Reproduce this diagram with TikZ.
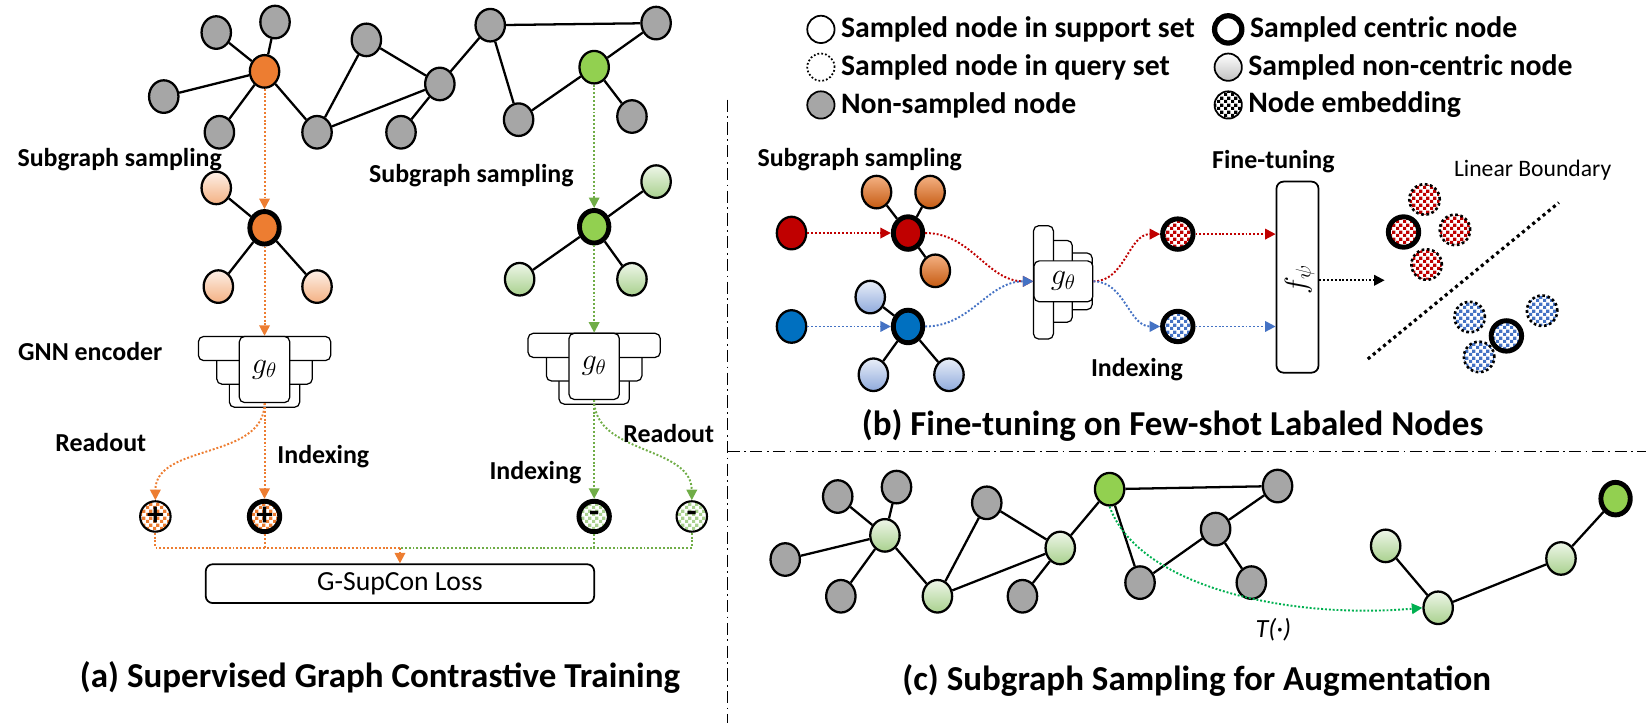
\documentclass[tikz,border=0pt]{standalone}
\usepackage{fontspec}
\setmainfont{Carlito}
\usetikzlibrary{positioning,arrows.meta,shapes.geometric,patterns}
\definecolor{gris}{RGB}{166,166,166}
\definecolor{naranja}{RGB}{237,125,49}
\definecolor{naranjaclaro}{RGB}{244,177,131}
\definecolor{naranjaosc}{RGB}{197,90,17}
\definecolor{verde}{RGB}{146,208,80}
\definecolor{verdeclaro}{RGB}{169,209,142}
\definecolor{verdeflecha}{RGB}{112,173,71}
\definecolor{verdet}{RGB}{0,176,80}
\definecolor{rojo}{RGB}{192,0,0}
\definecolor{azul}{RGB}{0,112,192}
\definecolor{azulclaro}{RGB}{143,170,220}
\definecolor{azulflecha}{RGB}{68,114,196}
\pgfdeclarepatternformonly{cuadros}{\pgfpointorigin}{\pgfqpoint{3.8pt}{3.8pt}}%
  {\pgfqpoint{3.8pt}{3.8pt}}{%
  \pgfpathrectangle{\pgfpointorigin}{\pgfqpoint{1.9pt}{1.9pt}}%
  \pgfpathrectangle{\pgfqpoint{1.9pt}{1.9pt}}{\pgfqpoint{1.9pt}{1.9pt}}%
  \pgfusepath{fill}}

\begin{document}
\begin{tikzpicture}[x=0.6pt, y=-0.6pt,
  nodo/.style={ellipse, draw, line width=1.3pt, fill=gris,
    minimum width=16.8pt, minimum height=18.6pt, inner sep=0pt},
  centrico/.style={line width=2.8pt},
  naranjam/.style={nodo, top color=naranjaclaro!20!white, bottom color=naranjaclaro},
  verdem/.style={nodo, top color=verdeclaro!20!white, bottom color=verdeclaro},
  naranjab/.style={nodo, top color=naranjaclaro, bottom color=naranjaosc},
  azulm/.style={nodo, top color=azulclaro!20!white, bottom color=azulclaro},
  arista/.style={line width=1.3pt},
  emb/.style={circle, draw, line width=1.2pt, minimum size=17.4pt, inner sep=0pt,
    preaction={fill=white}, pattern=cuadros,
    font=\fontsize{19}{19}\selectfont\bfseries},
  consulta/.style={line width=1.5pt, dash pattern=on 1.5pt off 1.5pt},
  ley/.style={circle, draw, line width=1pt, fill=white, minimum size=15.6pt, inner sep=0pt},
  punteo/.style={line width=1.1pt, dash pattern=on 1.1pt off 1.1pt},
  flecha/.style={punteo, -{Triangle[length=6pt,width=6pt]}},
  caja/.style={draw, rounded corners=3pt, fill=white, line width=0.7pt, inner sep=0pt,
    font=\fontsize{17}{17}\selectfont},
  etiq/.style={font=\fontsize{14.8}{17}\selectfont\bfseries},
  titulo/.style={font=\fontsize{20}{24}\selectfont\bfseries},
  leyenda/.style={font=\fontsize{17}{20}\selectfont\bfseries, inner sep=0pt},
  divisor/.style={line width=0.9pt, dash pattern=on 7pt off 2.5pt on 1pt off 2.5pt}
]
\useasboundingbox (0,0) rectangle (1568,688);
% Grafo original (a)
\node[nodo] (ga) at (206,31) {};
\node[nodo] (gb) at (262,21) {};
\node[nodo, fill=naranja] (na) at (252,68) {};
\node[nodo] (gc) at (156,92) {};
\node[nodo] (gd) at (209,126) {};
\node[nodo] (ge) at (302,126) {};
\node[nodo] (gf) at (349,38) {};
\node[nodo] (gg) at (419,80) {};
\node[nodo] (gh) at (382,126) {};
\node[nodo] (gi) at (467,24) {};
\node[nodo] (gj) at (625,22) {};
\node[nodo, fill=verde] (nv) at (566,64) {};
\node[nodo] (gk) at (494,114) {};
\node[nodo] (gl) at (602,111) {};
\draw[arista] (na) -- (ga) (na) -- (gb) (na) -- (gc) (na) -- (gd) (na) -- (ge)
  (ge) -- (gf) (ge) -- (gg) (gf) -- (gg) (gg) -- (gh) (gg) -- (gi)
  (gi) -- (gj) (gi) -- (gk) (gk) -- (nv) (nv) -- (gj) (nv) -- (gl);
% Subgrafos muestreados
\node[naranjam] (sa1) at (206,179) {};
\node[nodo, centrico, fill=naranja] (sca) at (252,217) {};
\node[naranjam] (sa2) at (208,273) {};
\node[naranjam] (sa3) at (302,273) {};
\draw[arista] (sca) -- (sa1) (sca) -- (sa2) (sca) -- (sa3);
\node[verdem] (sb1) at (625,173) {};
\node[nodo, centrico, fill=verde] (scb) at (566,216) {};
\node[verdem] (sb2) at (495,266) {};
\node[verdem] (sb3) at (602,266) {};
\draw[arista] (scb) -- (sb1) (scb) -- (sb2) (scb) -- (sb3);
\node[etiq] (lsa) at (114,152) {Subgraph sampling};
\node[etiq] (lsb) at (449,167) {Subgraph sampling};
% Codificadores
\node[caja, minimum width=40.2pt, minimum height=22.8pt] (ca3) at (252,369) {};
\node[caja, minimum width=54.6pt, minimum height=21.6pt] (ca2) at (252,348) {};
\node[caja, minimum width=75.6pt, minimum height=13.8pt] (ca1) at (252,332) {};
\node[caja, minimum width=28.8pt, minimum height=37.8pt] (ca) at (252,352) {$g_\theta$};
\node[caja, minimum width=40.2pt, minimum height=22.8pt] (cb3) at (566,366) {};
\node[caja, minimum width=54.6pt, minimum height=21.6pt] (cb2) at (566,345) {};
\node[caja, minimum width=75.6pt, minimum height=13.8pt] (cb1) at (566,329) {};
\node[caja, minimum width=28.8pt, minimum height=37.8pt] (cb) at (566,349) {$g_\theta$};
\node[etiq] (lgnn) at (86,335) {GNN encoder};
\draw[flecha, naranja] (na) -- (sca);
\draw[flecha, naranja] (sca) -- (ca);
\draw[flecha, verdeflecha] (nv) -- (scb);
\draw[flecha, verdeflecha] (scb) -- (cb);
% Embeddings y perdida
\node[emb, pattern color=naranja] (p1) at (148,492) {+};
\node[emb, centrico, pattern color=naranja] (p2) at (252,492) {+};
\node[emb, centrico, pattern color=verdeclaro] (m1) at (566,492) {-};
\node[emb, pattern color=verdeclaro] (m2) at (659,492) {-};
\draw[flecha, naranja] (ca.south) to[out=-90,in=90] (p1.north);
\draw[flecha, naranja] (ca) -- (p2);
\draw[flecha, verdeflecha] (cb) -- (m1);
\draw[flecha, verdeflecha] (cb.south) to[out=-90,in=90] (m2.north);
\node[etiq] (lra) at (96,422) {Readout};
\node[etiq] (lia) at (308,435) {Indexing};
\node[etiq] (lib) at (510,450) {Indexing};
\node[etiq] (lrb) at (637,413) {Readout};
\node[caja, rounded corners=4pt, line width=1pt, minimum width=222pt, minimum height=22.2pt,
  font=\fontsize{15.8}{18}\selectfont] (loss) at (381,556) {G-SupCon Loss};
\coordinate (junta) at (381,522);
\draw[punteo, naranja] (p1.south) |- (junta);
\draw[punteo, naranja] (p2.south) -- (p2.south |- junta);
\draw[punteo, verdeflecha] (m2.south) |- (junta);
\draw[punteo, verdeflecha] (m1.south) -- (m1.south |- junta);
\draw[flecha, naranja] (junta) -- (loss.north);
\node[titulo] (tita) at (362,645) {(a) Supervised Graph Contrastive Training};
% Divisores
\coordinate (d1) at (693,95);
\coordinate (d2) at (693,708);
\coordinate (d3) at (1568,430);
\draw[divisor] (d1) -- (d2);
\draw[divisor] (d1 |- d3) -- (d3);
% Leyenda
\node[ley] (l1) at (782,28) {};
\node[leyenda, right=3pt of l1] (t1) {Sampled node in support set};
\node[ley, dash pattern=on 1pt off 1.2pt] (l2) at (782,64) {};
\node[leyenda, right=3pt of l2] (t2) {Sampled node in query set};
\node[ley, fill=gris] (l3) at (782,100) {};
\node[leyenda, right=3pt of l3] (t3) {Non-sampled node};
\node[ley, line width=3pt] (l4) at (1170,28) {};
\node[leyenda, right=3pt of l4] (t4) {Sampled centric node};
\node[ley, top color=white, bottom color=gris!70] (l5) at (1170,64) {};
\node[leyenda, right=3pt of l5] (t5) {Sampled non-centric node};
\node[emb, minimum size=15.6pt, line width=1pt, pattern color=black] (l6) at (1170,100) {};
\node[leyenda, right=3pt of l6] (t6) {Node embedding};
% Ajuste fino (b)
\node[etiq] (lsc) at (819,152) {Subgraph sampling};
\node[nodo, fill=rojo] (rl) at (754,222) {};
\node[nodo, centrico, fill=rojo] (rc) at (865,222) {};
\node[naranjab] (ob1) at (835,183) {};
\node[naranjab] (ob2) at (886,183) {};
\node[naranjab] (ob3) at (891,258) {};
\draw[arista] (rc) -- (ob1) (rc) -- (ob2) (rc) -- (ob3);
\node[nodo, fill=azul] (bl) at (754,311) {};
\node[nodo, centrico, fill=azul] (bc) at (865,311) {};
\node[azulm] (lb1) at (829,283) {};
\node[azulm] (lb2) at (832,357) {};
\node[azulm] (lb3) at (904,357) {};
\draw[arista] (bc) -- (lb1) (bc) -- (lb2) (bc) -- (lb3);
\node[caja, minimum width=18.6pt, minimum height=32.4pt] (cc3) at (1025,268) {};
\node[caja, minimum width=16.2pt, minimum height=46.8pt] (cc2) at (1008,268) {};
\node[caja, minimum width=11.4pt, minimum height=64.8pt] (cc1) at (994,269) {};
\node[caja, minimum width=33.6pt, minimum height=23.4pt] (cc) at (1013,268) {$g_\theta$};
\draw[flecha, rojo] (rl) -- (rc);
\draw[flecha, azulflecha] (bl) -- (bc);
\draw[flecha, rojo] (rc.east) to[out=0,in=180] (cc.west);
\draw[flecha, azulflecha] (bc.east) to[out=0,in=180] (cc.west);
\node[emb, centrico, pattern color=rojo] (er) at (1122,223) {};
\node[emb, centrico, pattern color=azulflecha] (eb) at (1122,311) {};
\draw[flecha, rojo] (cc.east) to[out=0,in=180] (er.west);
\draw[flecha, azulflecha] (cc.east) to[out=0,in=180] (eb.west);
\node[etiq] (lic) at (1083,352) {Indexing};
\node[etiq] (lft) at (1213,154) {Fine-tuning};
\node[caja, rounded corners=4pt, line width=1pt, minimum width=24pt,
  minimum height=109.2pt] (fpsi) at (1236,264) {};
\node[rotate=90, font=\fontsize{17}{17}\selectfont] (tpsi) at (1238,266) {$f_\psi$};
\draw[flecha, rojo] (er.east) -- (er.east -| fpsi.west);
\draw[flecha, azulflecha] (eb.east) -- (eb.east -| fpsi.west);
\coordinate (dest) at (1319,267);
\draw[flecha] (fpsi.east |- dest) -- (dest);
\node[font=\fontsize{13.5}{16}\selectfont] (llb) at (1460,162) {Linear Boundary};
\node[emb, centrico, pattern color=rojo] (cr0) at (1337,221) {};
\node[emb, consulta, pattern color=rojo] (cr1) at (1357,190) {};
\node[emb, consulta, pattern color=rojo] (cr2) at (1386,219) {};
\node[emb, consulta, pattern color=rojo] (cr3) at (1359,252) {};
\node[emb, consulta, pattern color=azulflecha] (cb4) at (1400,302) {};
\node[emb, consulta, pattern color=azulflecha] (cb5) at (1469,296) {};
\node[emb, consulta, pattern color=azulflecha] (cb6) at (1409,340) {};
\node[emb, centrico, pattern color=azulflecha] (cb0) at (1435,320) {};
\coordinate (lim1) at (1303,342);
\coordinate (lim2) at (1485,193);
\draw[line width=1.8pt, dash pattern=on 1.8pt off 2pt] (lim1) -- (lim2);
\node[titulo] (titb) at (1117,405) {(b) Fine-tuning on Few-shot Labaled Nodes};
% Muestreo para aumento (c)
\node[verdem] (cna) at (843,510) {};
\node[nodo] (cga) at (798,473) {};
\node[nodo] (cgb) at (854,464) {};
\node[nodo] (cgc) at (748,533) {};
\node[nodo] (cgd) at (801,568) {};
\node[verdem] (cge) at (893,568) {};
\node[nodo] (cgf) at (940,479) {};
\node[verdem] (cgg) at (1010,522) {};
\node[nodo] (cgh) at (974,568) {};
\node[nodo, fill=verde] (cgi) at (1057,466) {};
\node[nodo] (cgj) at (1217,463) {};
\node[nodo] (cgk) at (1086,555) {};
\node[nodo] (cnv) at (1158,504) {};
\node[nodo] (cgl) at (1192,555) {};
\draw[arista] (cna) -- (cga) (cna) -- (cgb) (cna) -- (cgc) (cna) -- (cgd) (cna) -- (cge)
  (cge) -- (cgf) (cge) -- (cgg) (cgf) -- (cgg) (cgg) -- (cgh) (cgg) -- (cgi)
  (cgi) -- (cgj) (cgi) -- (cgk) (cgk) -- (cnv) (cnv) -- (cgj) (cnv) -- (cgl);
\node[verdem] (s1) at (1320,520) {};
\node[verdem] (s2) at (1370,579) {};
\node[verdem] (s3) at (1487,532) {};
\node[nodo, centrico, fill=verde] (s4) at (1539,475) {};
\draw[arista] (s1) -- (s2) -- (s3) -- (s4);
\draw[flecha, verdet] (cgi.south) .. controls (1085,560) and (1230,590) .. (s2.west);
\node[font=\fontsize{15}{17}\selectfont\itshape] (lt) at (1213,600) {T(\textperiodcentered)};
\node[titulo] (titc) at (1140,648) {(c) Subgraph Sampling for Augmentation};
\end{tikzpicture}
\end{document}
